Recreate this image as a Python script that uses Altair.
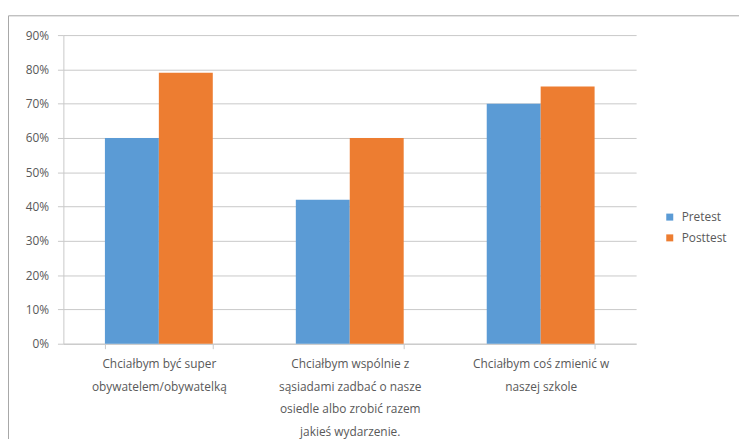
import altair as alt
import pandas as pd

categories = [
    "Chciałbym być super\nobywatelem/obywatelką",
    "Chciałbym wspólnie z\nsąsiadami zadbać o nasze\nosiedle albo zrobić razem\njakieś wydarzenie.",
    "Chciałbym coś zmienić w\nnaszej szkole",
]
series = ["Pretest", "Posttest"]
pretest = [60, 42, 70]
posttest = [79, 60, 75]
y_ticks = [0, 10, 20, 30, 40, 50, 60, 70, 80, 90]

rows = []
for i, c in enumerate(categories):
    rows.append({"category": c, "series": "Pretest", "value": pretest[i]})
    rows.append({"category": c, "series": "Posttest", "value": posttest[i]})
df = pd.DataFrame(rows)

FONT = "Open Sans"
TXT = "#595959"
GRID = "#c8c8c8"

bars = alt.Chart(df).mark_bar().encode(
    x=alt.X(
        "category:N",
        sort=categories,
        title=None,
        scale=alt.Scale(paddingInner=0.435, paddingOuter=0.2175),
        axis=alt.Axis(
            labelExpr="split(datum.label, '\\n')",
            labelAngle=0,
            labelFont=FONT,
            labelFontSize=12,
            labelColor=TXT,
            labelLineHeight=23,
            labelPadding=10,
            labelBaseline="top",
            labelLimit=300,
            tickBand="extent",
            tickSize=5,
            tickColor=GRID,
            domainColor=GRID,
            grid=False,
        ),
    ),
    xOffset=alt.XOffset("series:N", sort=series, scale=alt.Scale(paddingInner=0, paddingOuter=0)),
    y=alt.Y(
        "value:Q",
        title=None,
        scale=alt.Scale(domain=[0, 90], nice=False),
        axis=alt.Axis(
            values=y_ticks,
            labelExpr="datum.value + '%'",
            labelFont=FONT,
            labelFontSize=12,
            labelColor=TXT,
            labelPadding=9,
            tickSize=6,
            tickColor=GRID,
            domainColor=GRID,
            gridColor=GRID,
        ),
    ),
    color=alt.Color(
        "series:N",
        sort=series,
        scale=alt.Scale(domain=series, range=["#5B9BD5", "#ED7D31"]),
        legend=alt.Legend(
            title=None,
            orient="none",
            legendX=607,
            legendY=178,
            symbolType="square",
            symbolSize=50,
            symbolStrokeWidth=0,
            labelFont=FONT,
            labelFontSize=12,
            labelColor=TXT,
            rowPadding=9,
            labelOffset=6,
        ),
    ),
)

border = alt.Chart(pd.DataFrame({"a": [0]})).mark_rect(
    fill=None, stroke="#a6a6a6", strokeWidth=1
).encode(
    x=alt.value(-55.5),
    x2=alt.value(700),
    y=alt.value(-19.5),
    y2=alt.value(440),
)

chart = alt.layer(border, bars).properties(
    width=579,
    height=312,
    autosize=alt.AutoSizeParams(type="none"),
    padding={"left": 56, "top": 25, "right": 104, "bottom": 100},
).configure_view(stroke=None)

chart.save("out.html", embed_options={"renderer": "svg", "actions": False})
